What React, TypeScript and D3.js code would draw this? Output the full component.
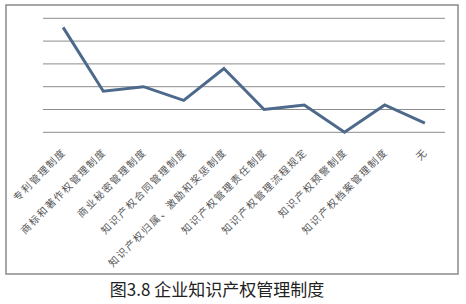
import React from "react";
import * as d3 from "d3";

const categories = [
  "专利管理制度",
  "商标和著作权管理制度",
  "商业秘密管理制度",
  "知识产权合同管理制度",
  "知识产权归属、激励和奖惩制度",
  "知识产权管理责任制度",
  "知识产权管理流程规定",
  "知识产权预警制度",
  "知识产权档案管理制度",
  "无",
];
const values = [46, 18, 20, 14, 28, 10, 12, 0, 12, 4];
const yTicks = [0, 10, 20, 30, 40, 50];
const title = "图3.8 企业知识产权管理制度";

export default function App() {
  const W = 466, H = 304;
  const x = d3.scalePoint<string>().domain(categories).range([43, 445]).padding(0.5);
  const y = d3.scaleLinear().domain([0, 50]).range([132.3, 18.3]);
  const line = d3
    .line<number>()
    .x((_, i) => x(categories[i]) as number)
    .y((d) => y(d));
  const font = "'Noto Sans CJK SC', sans-serif";
  return (
    <svg
      width={W}
      height={H}
      style={{ position: "absolute", left: 0, top: 0, background: "#fff" }}
    >
      <rect x={6} y={5} width={452} height={269} fill="#fff" stroke="#8a8a8a" strokeWidth={1.5} />
      {yTicks.map((t) => (
        <line key={t} x1={43} x2={445} y1={y(t)} y2={y(t)} stroke="#8c8c8c" strokeWidth={1} />
      ))}
      <path d={line(values) || ""} fill="none" stroke="#4d6a8c" strokeWidth={3} strokeLinejoin="miter" />
      {categories.map((c) => (
        <text
          key={c}
          transform={`translate(${(x(c) as number) + 0.5},149.5) rotate(-45)`}
          textAnchor="end"
          dominantBaseline="central"
          fontSize={10}
          letterSpacing={1.6}
          fontFamily={font}
          fill="#555"
        >
          {c}
        </text>
      ))}
      <text
        x={217}
        y={296}
        textAnchor="middle"
        fontSize={17}
        fontFamily={font}
        fill="#222"
      >
        {title}
      </text>
    </svg>
  );
}
